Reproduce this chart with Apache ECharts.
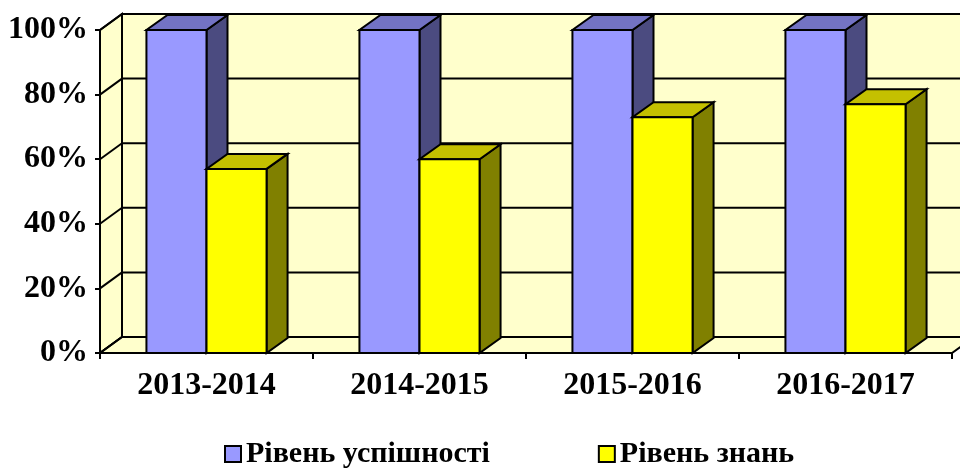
<!DOCTYPE html>
<html lang="uk">
<head>
  <meta charset="UTF-8">
  <title>Рівень успішності та знань</title>
  <script src="https://cdn.jsdelivr.net/npm/echarts@6.0.0/dist/echarts.min.js"></script>
  <style>
    html, body {
      margin: 0;
      padding: 0;
      background: #fff;
    }

    #main {
      width: 960px;
      height: 470px;
    }
  </style>
</head>
<body>
  <div id="main"></div>

  <script type="text/javascript">
    // дані діаграми
    var years = ['2013-2014', '2014-2015', '2015-2016', '2016-2017'];
    var uspishnist = [100, 100, 100, 100];
    var znannia = [57, 60, 73, 77];
    var yTicks = [0, 20, 40, 60, 80, 100];

    var FONT = "'Liberation Serif', 'Times New Roman', serif";
    var WALL = [22, -16];   // глибина стінок
    var DEPTH = [21, -15];  // глибина стовпчиків
    var LINE = { stroke: '#000', lineWidth: 2 };

    var myChart = echarts.init(document.getElementById('main'));

    // задня стінка, бокова стінка, підлога і лінії сітки
    function renderWalls(params, api) {
      var cs = params.coordSys;
      var x0 = cs.x, x1 = cs.x + cs.width;
      var yTop = cs.y, yBot = cs.y + cs.height;
      var dx = WALL[0], dy = WALL[1];
      var fill = { fill: '#FFFFCC', stroke: '#000', lineWidth: 2, lineJoin: 'miter' };
      var children = [
        { type: 'polygon', shape: { points: [[x0 + dx, yTop + dy], [x1 + dx, yTop + dy], [x1 + dx, yBot + dy], [x0 + dx, yBot + dy]] }, style: fill },
        { type: 'polygon', shape: { points: [[x0, yTop], [x0 + dx, yTop + dy], [x0 + dx, yBot + dy], [x0, yBot]] }, style: fill },
        { type: 'polygon', shape: { points: [[x0, yBot], [x1, yBot], [x1 + dx, yBot + dy], [x0 + dx, yBot + dy]] }, style: fill }
      ];
      yTicks.forEach(function(t) {
        var y = api.coord([0, t])[1];
        children.push({ type: 'line', shape: { x1: x0 + dx, y1: y + dy, x2: x1 + dx, y2: y + dy }, style: LINE });
        children.push({ type: 'line', shape: { x1: x0, y1: y, x2: x0 + dx, y2: y + dy }, style: LINE });
      });
      return { type: 'group', children: children };
    }

    function makeBar(side, front, top, dark) {
      return function(params, api) {
        var c = api.coord([api.value(0), api.value(1)]);
        var bottom = api.coord([api.value(0), 0])[1];
        var band = api.size([1, 0])[0];
        var w = band * 0.282;
        var left = side < 0 ? c[0] - w : c[0];
        var t = c[1];
        var dx = DEPTH[0], dy = DEPTH[1];
        var st = function(color) {
          return { fill: color, stroke: '#000', lineWidth: 2, lineJoin: 'miter' };
        };
        return {
          type: 'group',
          children: [
            { type: 'polygon', shape: { points: [[left + w, t], [left + w + dx, t + dy], [left + w + dx, bottom + dy], [left + w, bottom]] }, style: st(dark) },
            { type: 'polygon', shape: { points: [[left, t], [left + w, t], [left + w + dx, t + dy], [left + dx, t + dy]] }, style: st(top) },
            { type: 'rect', shape: { x: left, y: t, width: w, height: bottom - t }, style: st(front) }
          ]
        };
      };
    }

    var option = {
      animation: false,
      grid: {
        left: 100,
        right: 8,
        top: 30,
        bottom: 117
      },
      legend: {
        data: ['Рівень успішності', 'Рівень знань'],
        left: 219,
        top: 434,
        icon: 'rect',
        itemWidth: 16,
        itemHeight: 16,
        itemGap: 108,
        itemStyle: { borderColor: '#000', borderWidth: 2 },
        textStyle: { fontFamily: FONT, fontWeight: 'bold', fontSize: 30, color: '#000' }
      },
      xAxis: {
        type: 'category',
        data: years,
        axisLine: { lineStyle: { color: '#000', width: 2 } },
        axisTick: { show: true, length: 6, lineStyle: { color: '#000', width: 2 } },
        axisLabel: { fontFamily: FONT, fontWeight: 'bold', fontSize: 32, color: '#000', margin: 17 }
      },
      yAxis: {
        type: 'value',
        min: 0,
        max: 100,
        interval: 20,
        splitLine: { show: false },
        axisLine: { show: true, lineStyle: { color: '#000', width: 2 } },
        axisTick: { show: true, length: 5, lineStyle: { color: '#000', width: 2 } },
        axisLabel: { formatter: '{value}%', fontFamily: FONT, fontWeight: 'bold', fontSize: 32, color: '#000', margin: 12 }
      },
      series: [
        {
          name: 'стінки',
          type: 'custom',
          z: 1,
          clip: false,
          silent: true,
          renderItem: renderWalls,
          data: [[0, 0]]
        },
        {
          name: 'Рівень успішності',
          type: 'custom',
          z: 2,
          clip: false,
          itemStyle: { color: '#9999FF' },
          renderItem: makeBar(-1, '#9999FF', '#7373C4', '#4B4B80'),
          encode: { x: 0, y: 1 },
          data: years.map(function(y, i) { return [i, uspishnist[i]]; })
        },
        {
          name: 'Рівень знань',
          type: 'custom',
          z: 3,
          clip: false,
          itemStyle: { color: '#FFFF00' },
          renderItem: makeBar(1, '#FFFF00', '#C4C000', '#808000'),
          encode: { x: 0, y: 1 },
          data: years.map(function(y, i) { return [i, znannia[i]]; })
        }
      ]
    };

    myChart.setOption(option);
  </script>
</body>
</html>
